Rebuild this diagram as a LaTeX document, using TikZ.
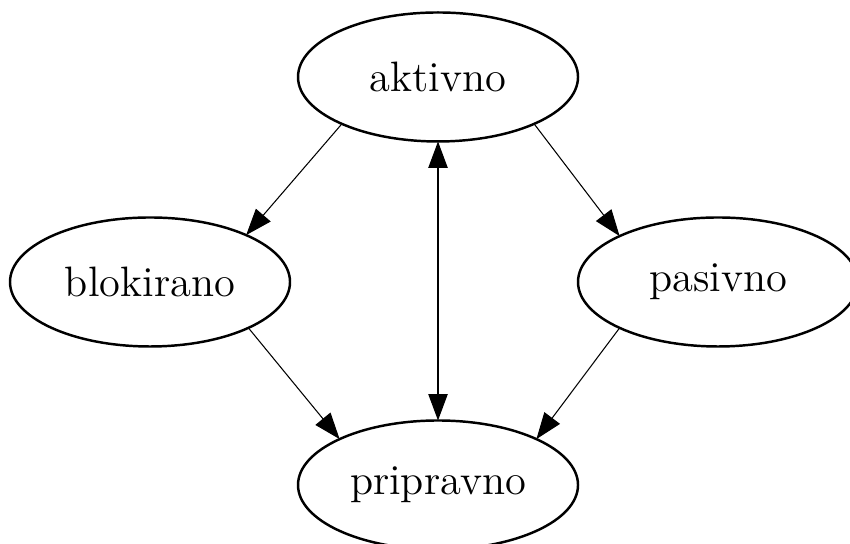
\documentclass[tikz,border=0pt]{standalone}
\usepackage{tkz-graph}
\usetikzlibrary{shapes.geometric,arrows.meta}

\tikzset{
  VertexStyle/.style={draw, shape=ellipse, line width=0.7pt,
    minimum width=2.8cm, minimum height=1.29cm, inner sep=0pt,
    font=\fontsize{12.1}{14}\selectfont},
  EdgeStyle/.style={line width=0.3pt, -{Triangle[length=7.5pt,width=5.5pt]}},
  LabelStyle/.style={inner sep=0pt},
  twoway/.style={line width=0.3pt,
    {Triangle[length=7.5pt,width=5.5pt]}-{Triangle[length=7.5pt,width=5.5pt]}}
}

\begin{document}
\begin{tikzpicture}
\useasboundingbox (0,0) rectangle (8.5,5.44);
\Vertex[x=4.38,y=4.67,L=aktivno]{A}
\Vertex[x=1.50,y=2.62,L=blokirano]{B}
\Vertex[x=7.18,y=2.62,L=pasivno]{P}
\Vertex[x=4.38,y=0.59,L=pripravno]{R}
\Edge(A.206)(B.26)
\Edge(A.334)(P.155)
\Edge(B.335)(R.155)
\Edge(P.205)(R.25)
\draw[twoway] (A) -- (R);
\end{tikzpicture}
\end{document}
